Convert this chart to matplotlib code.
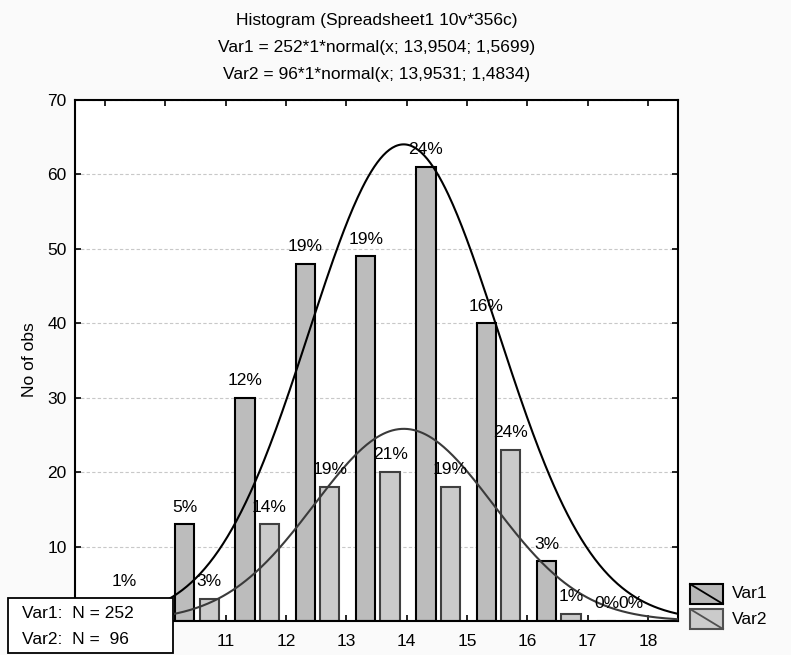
import numpy as np
import matplotlib
matplotlib.use("Agg")
import matplotlib.pyplot as plt
from matplotlib.patches import Rectangle
from matplotlib.lines import Line2D

plt.rcParams["font.family"] = ["Liberation Sans", "DejaVu Sans"]

# histogram data (bin left edges and counts)
bins = [9, 10, 11, 12, 13, 14, 15, 16, 17]
var1_counts = [3, 13, 30, 48, 49, 61, 40, 8, 0]
var2_counts = [0, 3, 13, 18, 20, 18, 23, 1, 0]

# fitted normal curves from the title
var1_n, var1_mean, var1_sd = 252, 13.9504, 1.5699
var2_n, var2_mean, var2_sd = 96, 13.9531, 1.4834

title_lines = ["Histogram (Spreadsheet1 10v*356c)",
               "Var1 = 252*1*normal(x; 13,9504; 1,5699)",
               "Var2 = 96*1*normal(x; 13,9531; 1,4834)"]
xticks = [9, 10, 11, 12, 13, 14, 15, 16, 17, 18]
xticklabels = ["", "", "11", "12", "13", "14", "15", "16", "17", "18"]  # 9, 10 sit under the N box
yticks = [0, 10, 20, 30, 40, 50, 60, 70]
yticklabels = ["", "10", "20", "30", "40", "50", "60", "70"]  # 0 is under the N box too

W, H = 791, 655
fig = plt.figure(figsize=(W / 100, H / 100), dpi=100, facecolor="#fafafa")
ax = fig.add_axes([75 / W, 1 - 621 / H, (678 - 75) / W, (621 - 100) / H])
ax.set_facecolor("white")

fs = 12.5
b = np.array(bins)
ax.bar(b + 0.32, var1_counts, width=0.32, color="#bcbcbc", edgecolor="black",
       linewidth=1.5, zorder=2)
ax.bar(b + 0.725, var2_counts, width=0.32, color="#cbcbcb", edgecolor="#404040",
       linewidth=1.5, zorder=2)

xs = np.linspace(8.5, 18.5, 400)
pdf1 = np.exp(-0.5 * ((xs - var1_mean) / var1_sd) ** 2) / (var1_sd * np.sqrt(2 * np.pi))
pdf2 = np.exp(-0.5 * ((xs - var2_mean) / var2_sd) ** 2) / (var2_sd * np.sqrt(2 * np.pi))
ax.plot(xs, var1_n * pdf1, color="black", lw=1.5, zorder=3)
ax.plot(xs, var2_n * pdf2, color="#3a3a3a", lw=1.5, zorder=3)

# percentage labels (the empty first Var2 bin is hidden by the N box)
for x, c in zip(b + 0.32, var1_counts):
    ax.annotate(f"{round(100 * c / var1_n)}%", (x, c), xytext=(0, 7),
                textcoords="offset points", ha="center", va="bottom", fontsize=fs, zorder=4)
for k, x, c in zip(bins, b + 0.725, var2_counts):
    if k == bins[0] and c == 0:
        continue
    ax.annotate(f"{round(100 * c / var2_n)}%", (x, c), xytext=(0, 7),
                textcoords="offset points", ha="center", va="bottom", fontsize=fs, zorder=4)

ax.set_xlim(8.5, 18.5)
ax.set_ylim(0, 70)
ax.set_xticks(xticks)
ax.set_xticklabels(xticklabels)
ax.set_yticks(yticks)
ax.set_yticklabels(yticklabels)
ax.tick_params(direction="in", length=4, width=1.2, top=True, right=True,
               labelsize=fs, colors="black")
ax.tick_params(axis="x", pad=9)
ax.tick_params(axis="y", pad=6)
ax.yaxis.grid(True, color="#c8c8c8", linestyle=(0, (3, 2)), linewidth=0.8)
ax.set_axisbelow(True)
for s in ax.spines.values():
    s.set_linewidth(1.5)

fig.text(30 / W, 1 - 360 / H, "No of obs", rotation=90, ha="center", va="center", fontsize=fs)

tx = (75 + 678) / 2 / W
for i, line in enumerate(title_lines):
    fig.text(tx, 1 - (20 + 27.5 * i) / H, line, ha="center", va="center", fontsize=fs)

# N box in the lower left corner
fig.add_artist(Rectangle((8 / W, 1 - 653 / H), 165 / W, 55 / H, transform=fig.transFigure,
                         facecolor="white", edgecolor="black", lw=1.3, zorder=10))
fig.text(22 / W, 1 - 613 / H, "Var1:  N = 252", va="center", fontsize=fs, zorder=11)
fig.text(22 / W, 1 - 640 / H, "Var2:  N =  96", va="center", fontsize=fs, zorder=11)

# legend
for name, top, fc, ec in [("Var1", 584, "#b8b8b8", "black"), ("Var2", 609, "#cbcbcb", "#505050")]:
    fig.add_artist(Rectangle((690 / W, 1 - (top + 20) / H), 33 / W, 20 / H,
                             transform=fig.transFigure, facecolor=fc, edgecolor=ec, lw=1.5))
    fig.add_artist(Line2D([690 / W, 723 / W], [1 - top / H, 1 - (top + 20) / H],
                          transform=fig.transFigure, color=ec, lw=1.3))
    fig.text(732 / W, 1 - (top + 10) / H, name, va="center", fontsize=fs)

fig.savefig("out.png", dpi=100, facecolor=fig.get_facecolor())
